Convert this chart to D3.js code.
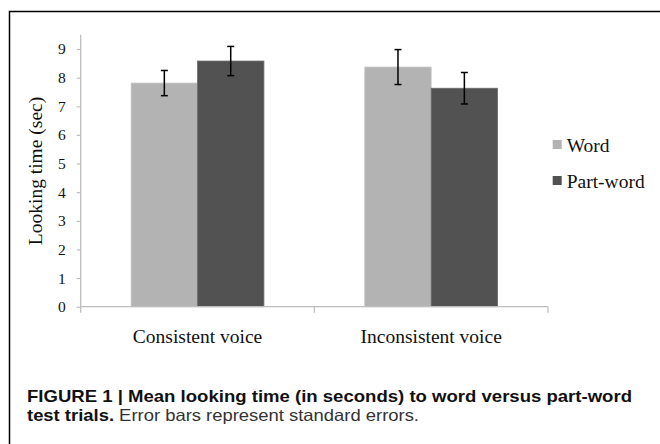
<!DOCTYPE html>
<html><head><meta charset="utf-8">
<script src="https://cdn.jsdelivr.net/npm/d3@7"></script>
<style>html,body{margin:0;padding:0;background:#fff;}svg{display:block;}</style>
</head><body>
<svg id="chart" width="660" height="444"></svg>
<script>
const categories = ["Consistent voice", "Inconsistent voice"];
const seriesNames = ["Word", "Part-word"];
const wordValues = [7.81, 8.37];
const partWordValues = [8.58, 7.63];
const wordErrors = [0.44, 0.61];
const partWordErrors = [0.51, 0.55];
const yTicks = [0, 1, 2, 3, 4, 5, 6, 7, 8, 9];
const colors = ["#b3b3b3", "#525252"];
const captionBold1 = "FIGURE 1 | Mean looking time (in seconds) to word versus part-word";
const captionBold2 = "test trials.";
const captionRegular2 = " Error bars represent standard errors.";

const svg = d3.select("#chart");
const serif = "'Liberation Serif', 'Times New Roman', serif";
const sans = "'Liberation Sans', Arial, sans-serif";

// frame
svg.append("path").attr("d", "M9.5,444 V11.5 H660").attr("fill", "none").attr("stroke", "#000").attr("stroke-width", 1.5);

const x0 = 80.7, x1 = 548, yBase = 306.7, yTop = 34.7;
const x = d3.scaleBand().domain(categories).range([x0, x1]).paddingInner(0).paddingOuter(0);
const xs = d3.scaleBand().domain(seriesNames).range([0, x.bandwidth()]).paddingInner(0).paddingOuter(0.76);
const y = d3.scaleLinear().domain([0, 9.5]).range([yBase, yTop]);

const data = [];
categories.forEach((c, i) => {
  data.push({cat: c, s: seriesNames[0], v: wordValues[i], e: wordErrors[i], col: colors[0]});
  data.push({cat: c, s: seriesNames[1], v: partWordValues[i], e: partWordErrors[i], col: colors[1]});
});

// bars
svg.append("g").selectAll("rect").data(data).join("rect")
  .attr("x", d => x(d.cat) + xs(d.s))
  .attr("y", d => y(d.v))
  .attr("width", xs.bandwidth())
  .attr("height", d => y(0) - y(d.v))
  .attr("fill", d => d.col)
  .attr("stroke", d => d.s === "Word" ? "#c4c4c4" : "#6a6a6a")
  .attr("stroke-width", 0.8);

// y axis
const yAxis = d3.axisLeft(y).tickValues(yTicks).tickSize(4).tickPadding(11).tickFormat(d3.format("d"));
const gy = svg.append("g").attr("transform", `translate(${x0},0)`).call(yAxis);
gy.select(".domain").remove();
gy.selectAll(".tick line").attr("stroke", "#bdbdbd").attr("stroke-width", 1.2);
gy.selectAll(".tick text").attr("font-family", serif).attr("font-size", 15.5).attr("fill", "#111");
svg.append("line").attr("x1", x0).attr("x2", x0).attr("y1", yTop).attr("y2", yBase + 6)
  .attr("stroke", "#bdbdbd").attr("stroke-width", 1.3);

// x axis
svg.append("line").attr("x1", x0).attr("x2", x1).attr("y1", yBase).attr("y2", yBase)
  .attr("stroke", "#bdbdbd").attr("stroke-width", 1.3);
const bounds = categories.map(c => x(c) + x.bandwidth());
svg.append("g").selectAll("line").data(bounds).join("line")
  .attr("x1", d => d).attr("x2", d => d).attr("y1", yBase).attr("y2", yBase + 6)
  .attr("stroke", "#bdbdbd").attr("stroke-width", 1.2);
svg.append("g").selectAll("text").data(categories).join("text")
  .attr("x", d => x(d) + x.bandwidth() / 2).attr("y", 343)
  .attr("text-anchor", "middle").attr("font-family", serif).attr("font-size", 19.5).attr("fill", "#111")
  .text(d => d);

// error bars
const eb = svg.append("g").attr("stroke", "#000").attr("stroke-width", 1.5).attr("fill", "none");
data.forEach(d => {
  const cx = x(d.cat) + xs(d.s) + xs.bandwidth() / 2;
  const yh = y(d.v + d.e), yl = y(d.v - d.e);
  eb.append("line").attr("x1", cx).attr("x2", cx).attr("y1", yh).attr("y2", yl);
  eb.append("line").attr("x1", cx - 3.5).attr("x2", cx + 3.5).attr("y1", yh).attr("y2", yh);
  eb.append("line").attr("x1", cx - 3.5).attr("x2", cx + 3.5).attr("y1", yl).attr("y2", yl);
});

// y title
svg.append("text").attr("transform", "translate(41.5,171) rotate(-90)")
  .attr("text-anchor", "middle").attr("font-family", serif).attr("font-size", 19.5).attr("fill", "#111")
  .text("Looking time (sec)");

// legend
const lg = svg.append("g").selectAll("g").data(seriesNames).join("g")
  .attr("transform", (d, i) => `translate(552.7,${140 + i * 36})`);
lg.append("rect").attr("width", 9).attr("height", 9).attr("fill", (d, i) => colors[i]);
lg.append("text").attr("x", 14).attr("y", 11.5).attr("font-family", serif).attr("font-size", 19.5)
  .attr("fill", "#111").text(d => d);

// caption
svg.append("text").attr("x", 27).attr("y", 401.5).attr("font-family", sans).attr("font-weight", "bold")
  .attr("font-size", 16.5).attr("fill", "#111").attr("textLength", 605).attr("lengthAdjust", "spacingAndGlyphs")
  .text(captionBold1);
const c2 = svg.append("text").attr("x", 27).attr("y", 421).attr("font-family", sans)
  .attr("font-size", 16.5).attr("fill", "#111").attr("textLength", 392).attr("lengthAdjust", "spacingAndGlyphs");
c2.append("tspan").attr("font-weight", "bold").text(captionBold2);
c2.append("tspan").attr("fill", "#333").text(captionRegular2);
</script>
</body></html>
